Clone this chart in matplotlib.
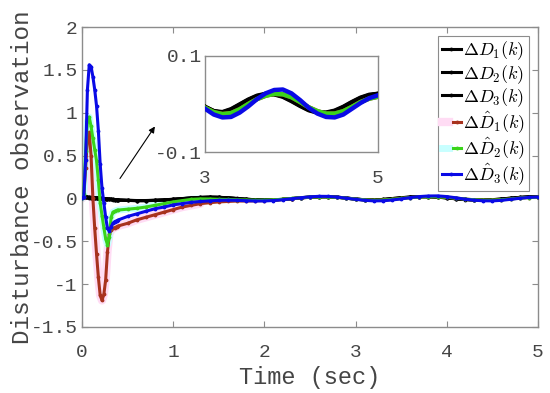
import matplotlib
matplotlib.use("Agg")
import matplotlib.pyplot as plt
from matplotlib.legend_handler import HandlerTuple

# ---------------- data ----------------
t = [0.00, 0.02, 0.04, 0.06, 0.08, 0.10, 0.12, 0.14, 0.16, 0.18, 0.20,
     0.22, 0.24, 0.26, 0.28, 0.30, 0.32, 0.34, 0.36, 0.38, 0.40,
     0.5, 0.6, 0.7, 0.8, 0.9, 1.0, 1.1, 1.2, 1.3, 1.4, 1.5, 1.6, 1.7, 1.8, 1.9,
     2.0, 2.1, 2.2, 2.3, 2.4, 2.5, 2.6, 2.7, 2.8, 2.9,
     3.0, 3.1, 3.2, 3.3, 3.4, 3.5, 3.6, 3.7, 3.8, 3.9,
     4.0, 4.1, 4.2, 4.3, 4.4, 4.5, 4.6, 4.7, 4.8, 4.9, 5.0]

D1 = [0.015, 0.015, 0.014, 0.013, 0.012, 0.011, 0.009, 0.008, 0.006, 0.004, 0.002,
      0.000, -0.002, -0.004, -0.006, -0.008, -0.010, -0.012, -0.014, -0.016, -0.018,
      -0.022, -0.025, -0.025, -0.022, -0.017, -0.010, -0.002, 0.006, 0.012, 0.015, 0.013, 0.007, -0.002, -0.010, -0.016,
      -0.019, -0.017, -0.011, -0.002, 0.008, 0.015, 0.020, 0.020, 0.014, 0.004,
      -0.008, -0.016, -0.018, -0.012, -0.002, 0.008, 0.016, 0.020, 0.020, 0.015,
      0.006, -0.004, -0.013, -0.018, -0.019, -0.015, -0.007, 0.003, 0.012, 0.018, 0.020]
D2 = [0.014, 0.014, 0.013, 0.012, 0.011, 0.010, 0.008, 0.007, 0.005, 0.003, 0.001,
      -0.001, -0.003, -0.005, -0.007, -0.009, -0.011, -0.013, -0.015, -0.017, -0.019,
      -0.023, -0.026, -0.026, -0.023, -0.018, -0.011, -0.003, 0.005, 0.011, 0.014, 0.013, 0.008, 0.000, -0.008, -0.015,
      -0.019, -0.018, -0.012, -0.004, 0.006, 0.014, 0.019, 0.020, 0.015, 0.006,
      -0.006, -0.015, -0.019, -0.015, -0.006, 0.005, 0.014, 0.019, 0.021, 0.017,
      0.009, -0.002, -0.011, -0.017, -0.020, -0.017, -0.010, 0.000, 0.010, 0.017, 0.021]
D3 = [0.016, 0.016, 0.015, 0.014, 0.013, 0.012, 0.010, 0.009, 0.007, 0.005, 0.003,
      0.001, -0.001, -0.003, -0.005, -0.007, -0.009, -0.011, -0.013, -0.015, -0.017,
      -0.021, -0.024, -0.024, -0.021, -0.016, -0.009, -0.001, 0.007, 0.013, 0.016, 0.014, 0.008, -0.001, -0.009, -0.015,
      -0.018, -0.016, -0.010, -0.001, 0.009, 0.016, 0.021, 0.021, 0.015, 0.005,
      -0.007, -0.015, -0.017, -0.011, -0.001, 0.009, 0.017, 0.021, 0.021, 0.016,
      0.007, -0.003, -0.012, -0.017, -0.018, -0.014, -0.006, 0.004, 0.013, 0.019, 0.021]

D1_hat = [0.0, 0.02, 0.35, 0.70, 0.77, 0.50, 0.00, -0.35, -0.65, -0.92, -1.13,
          -1.19, -1.12, -0.95, -0.62, -0.42, -0.37, -0.35, -0.34, -0.33, -0.32,
          -0.29, -0.25, -0.22, -0.19, -0.16, -0.13, -0.10, -0.08, -0.06, -0.05, -0.04, -0.035, -0.030, -0.030, -0.028,
          -0.025, -0.020, -0.012, -0.002, 0.008, 0.015, 0.020, 0.019, 0.013, 0.003,
          -0.008, -0.017, -0.021, -0.019, -0.011, 0.000, 0.010, 0.017, 0.021, 0.020,
          0.014, 0.004, -0.007, -0.015, -0.020, -0.020, -0.015, -0.006, 0.004, 0.011, 0.015]
D2_hat = [0.0, 0.05, 0.55, 0.90, 0.95, 0.84, 0.70, 0.57, 0.44, 0.21, -0.05,
          -0.20, -0.34, -0.47, -0.54, -0.45, -0.22, -0.16, -0.15, -0.14, -0.135,
          -0.125, -0.115, -0.10, -0.08, -0.06, -0.04, -0.025, -0.010, -0.005, -0.006, -0.010, -0.012, -0.015, -0.018, -0.020,
          -0.020, -0.016, -0.009, 0.000, 0.009, 0.016, 0.020, 0.019, 0.013, 0.003,
          -0.008, -0.017, -0.021, -0.019, -0.011, 0.000, 0.010, 0.017, 0.021, 0.020,
          0.014, 0.004, -0.007, -0.015, -0.020, -0.020, -0.015, -0.006, 0.004, 0.011, 0.015]
D3_hat = [0.0, 0.02, 0.45, 1.27, 1.56, 1.54, 1.42, 1.27, 1.08, 0.79, 0.40,
          0.12, -0.05, -0.22, -0.35, -0.38, -0.33, -0.29, -0.27, -0.26, -0.25,
          -0.21, -0.18, -0.15, -0.12, -0.10, -0.075, -0.06, -0.045, -0.035, -0.028, -0.022, -0.020, -0.022, -0.026, -0.029,
          -0.029, -0.024, -0.015, -0.003, 0.009, 0.019, 0.025, 0.024, 0.016, 0.003,
          -0.010, -0.022, -0.028, -0.027, -0.018, -0.005, 0.010, 0.022, 0.029, 0.030,
          0.022, 0.008, -0.008, -0.020, -0.027, -0.028, -0.022, -0.010, 0.002, 0.012, 0.018]

labels = [r'$\Delta D_1(k)$', r'$\Delta D_2(k)$', r'$\Delta D_3(k)$',
          r'$\Delta \hat{D}_1(k)$', r'$\Delta \hat{D}_2(k)$', r'$\Delta \hat{D}_3(k)$']
x_ticks = [0, 1, 2, 3, 4, 5]
y_ticks = [-1.5, -1, -0.5, 0, 0.5, 1, 1.5, 2]
y_ticklabels = ['-1.5', '-1', '-0.5', '0', '0.5', '1', '1.5', '2']

# ---------------- style ----------------
plt.rcParams['font.family'] = ['Liberation Mono', 'DejaVu Sans']
plt.rcParams['mathtext.fontset'] = 'cm'

c_black = '#000000'
c_red = '#a8321e'
c_green = '#3ad41a'
c_blue = '#0a0ae6'
halo_red = '#ffdcf4'
halo_green = '#c8ffff'
spine_c = '#8c8c8c'
text_c = '#454545'

HALO_N = 30  # halos drawn over the transient part only (t <= 1.3)

fig = plt.figure(figsize=(5.5, 3.93), dpi=100)
ax = fig.add_axes([0.149, 0.168, 0.829, 0.763])


def draw(a, inset=False):
    hs = []
    if not inset:
        a.plot(t[:HALO_N], D1_hat[:HALO_N], color=halo_red, lw=6,
               solid_capstyle='round', zorder=1)
        a.plot(t[:HALO_N], D2_hat[:HALO_N], color=halo_green, lw=5,
               solid_capstyle='round', zorder=1)
    for y, c in [(D1, c_black), (D2, c_black), (D3, c_black),
                 (D1_hat, c_red), (D2_hat, c_green), (D3_hat, c_blue)]:
        h, = a.plot(t, y, color=c, lw=2.2 if not inset else 3.2,
                    marker='.', ms=3.5 if not inset else 0, zorder=3)
        hs.append(h)
    return hs


hs = draw(ax)
ax.set_xlim(0, 5)
ax.set_ylim(-1.5, 2)
ax.set_xticks(x_ticks)
ax.set_yticks(y_ticks)
ax.set_yticklabels(y_ticklabels)
ax.tick_params(direction='in', top=True, right=True, length=4, width=0.8,
               color=spine_c, labelcolor=text_c, labelsize=14)
ax.tick_params(axis='x', pad=12)
ax.tick_params(axis='y', pad=3)
for s in ax.spines.values():
    s.set_color(spine_c)
    s.set_linewidth(1.0)
ax.set_xlabel('Time (sec)', fontsize=17, color=text_c, labelpad=4)
ax.set_ylabel('Disturbance observation', fontsize=17.5, color=text_c, labelpad=-2)

# arrow
ax.annotate('', xy=(0.80, 0.84), xytext=(0.417, 0.233),
            arrowprops=dict(arrowstyle='-|>', color='black', lw=0.8,
                            mutation_scale=9, shrinkA=0, shrinkB=0))

# legend
red_halo_h, = ax.plot([], [], color=halo_red, lw=6)
green_halo_h, = ax.plot([], [], color=halo_green, lw=5)
handles = [hs[0], hs[1], hs[2], (red_halo_h, hs[3]), (green_halo_h, hs[4]), hs[5]]
leg = ax.legend(handles, labels, loc='upper right', fontsize=13,
                handler_map={tuple: HandlerTuple(ndivide=None)},
                handlelength=1.05, handletextpad=0.15, borderpad=0.2,
                labelspacing=0.02, borderaxespad=0.5, fancybox=False,
                framealpha=1, edgecolor=spine_c)
leg.get_frame().set_linewidth(0.8)
leg.set_zorder(10)

# inset
ax2 = fig.add_axes([0.373, 0.613, 0.314, 0.245])
draw(ax2, inset=True)
ax2.set_xlim(3, 5)
ax2.set_ylim(-0.1, 0.1)
ax2.set_xticks([3, 5])
ax2.set_yticks([-0.1, 0.1])
ax2.set_yticklabels(['-0.1', '0.1'])
ax2.tick_params(length=0, labelcolor=text_c, labelsize=14)
ax2.tick_params(axis='x', pad=13)
ax2.tick_params(axis='y', pad=2)
for s in ax2.spines.values():
    s.set_color(spine_c)
    s.set_linewidth(1.0)

fig.savefig('out.png', dpi=100)
